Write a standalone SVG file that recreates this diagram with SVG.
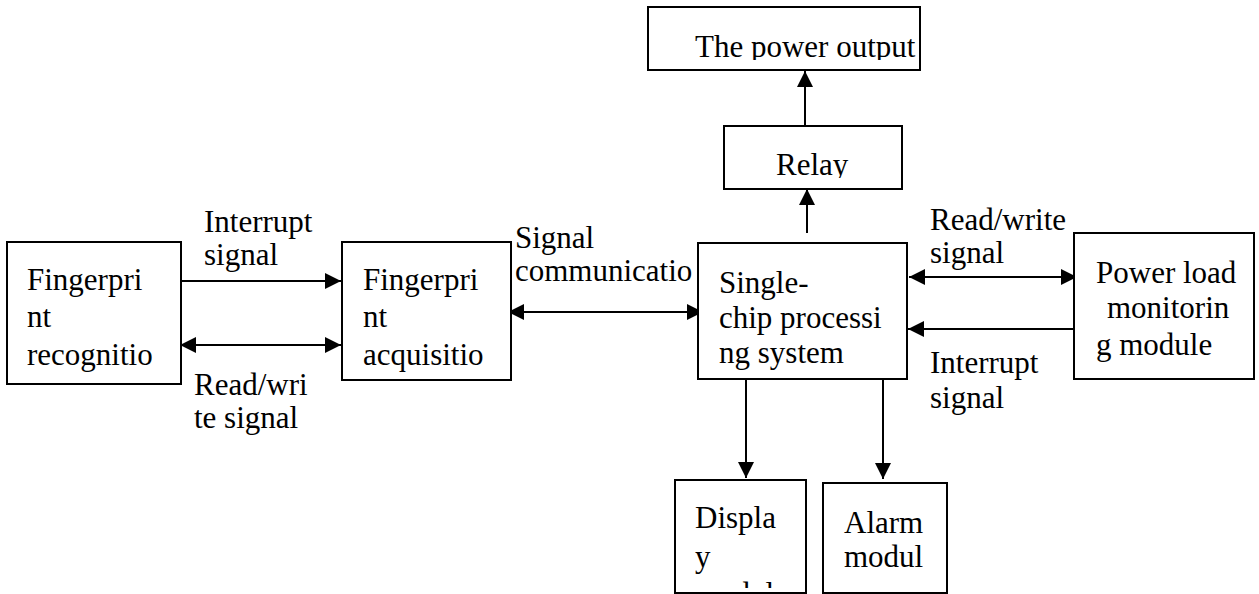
<svg xmlns="http://www.w3.org/2000/svg" width="1259" height="594" viewBox="0 0 1259 594">
<style>
.box{fill:#fff;stroke:#000;stroke-width:2}
.t{font-family:"Liberation Serif","Times New Roman",serif;font-size:31px;fill:#000}
.c{stroke:#000;stroke-width:2;fill:none}
</style>
<defs>
<marker id="ah" markerUnits="userSpaceOnUse" markerWidth="16" markerHeight="16" refX="15" refY="7.5" orient="auto-start-reverse" viewBox="0 0 15 15">
<path d="M0,0 L15,7.5 L0,15 z" fill="#000"/>
</marker>
<clipPath id="cpPow"><rect x="648" y="7" width="272" height="53"/></clipPath>
<clipPath id="cpRel"><rect x="724" y="126" width="178" height="52"/></clipPath>
<clipPath id="cpDis"><rect x="675" y="480" width="131" height="108"/></clipPath>
</defs>
<rect width="1259" height="594" fill="#fff"/>

<g id="connectors">
<line class="c" x1="181" y1="281" x2="341" y2="281" marker-end="url(#ah)"/>
<line class="c" x1="180" y1="345" x2="341" y2="345" marker-start="url(#ah)" marker-end="url(#ah)"/>
<line class="c" x1="508" y1="312" x2="703" y2="312" marker-start="url(#ah)" marker-end="url(#ah)"/>
<line class="c" x1="807" y1="233" x2="807" y2="189" marker-end="url(#ah)"/>
<line class="c" x1="805" y1="126" x2="805" y2="71" marker-end="url(#ah)"/>
<line class="c" x1="909" y1="277" x2="1077" y2="277" marker-start="url(#ah)" marker-end="url(#ah)"/>
<line class="c" x1="1074" y1="329" x2="908" y2="329" marker-end="url(#ah)"/>
<line class="c" x1="746" y1="380" x2="746" y2="478" marker-end="url(#ah)"/>
<line class="c" x1="883" y1="380" x2="883" y2="479" marker-end="url(#ah)"/>
</g>

<g id="labels">
<text class="t" x="204" y="232">Interrupt</text>
<text class="t" x="204" y="265">signal</text>
<text class="t" x="194" y="395">Read/wri</text>
<text class="t" x="194" y="428">te signal</text>
<text class="t" x="515" y="248">Signal</text>
<text class="t" x="515" y="281">communicatio</text>
<text class="t" x="930" y="230">Read/write</text>
<text class="t" x="930" y="263">signal</text>
<text class="t" x="930" y="373">Interrupt</text>
<text class="t" x="930" y="408">signal</text>
</g>

<g id="fp-recognition">
<rect class="box" x="7" y="242" width="174" height="142"/>
<text class="t" x="27" y="290">Fingerpri</text>
<text class="t" x="27" y="327">nt</text>
<text class="t" x="27" y="365">recognitio</text>
</g>

<g id="fp-acquisition">
<rect class="box" x="342" y="242" width="169" height="138"/>
<text class="t" x="363" y="290">Fingerpri</text>
<text class="t" x="363" y="327">nt</text>
<text class="t" x="363" y="365">acquisitio</text>
</g>

<g id="single-chip">
<rect class="box" x="698" y="243" width="209" height="136"/>
<text class="t" x="719" y="293">Single-</text>
<text class="t" x="719" y="328">chip processi</text>
<text class="t" x="719" y="363">ng system</text>
</g>

<g id="power-output">
<rect class="box" x="648" y="7" width="272" height="63"/>
<text class="t" x="695" y="57" clip-path="url(#cpPow)">The power output</text>
</g>

<g id="relay">
<rect class="box" x="724" y="126" width="178" height="63"/>
<text class="t" x="776" y="175" clip-path="url(#cpRel)">Relay</text>
</g>

<g id="power-load">
<rect class="box" x="1074" y="233" width="180" height="146"/>
<text class="t" x="1096" y="283">Power load</text>
<text class="t" x="1107" y="318">monitorin</text>
<text class="t" x="1096" y="355">g module</text>
</g>

<g id="display">
<rect class="box" x="675" y="480" width="131" height="113"/>
<text class="t" x="695" y="528" clip-path="url(#cpDis)">Displa</text>
<text class="t" x="695" y="567" clip-path="url(#cpDis)">y</text>
<text class="t" x="695" y="604" clip-path="url(#cpDis)">module</text>
</g>

<g id="alarm">
<rect class="box" x="823" y="483" width="124" height="110"/>
<text class="t" x="844" y="533">Alarm</text>
<text class="t" x="844" y="567">modul</text>
</g>
</svg>
